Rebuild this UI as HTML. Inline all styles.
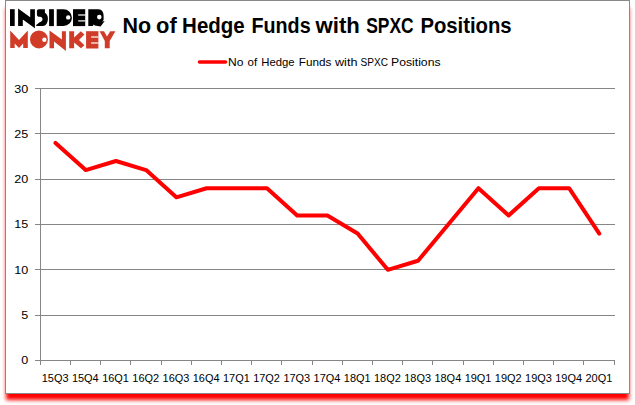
<!DOCTYPE html>
<html><head><meta charset="utf-8">
<style>
html,body{margin:0;padding:0;background:#fff;}
body{width:635px;height:405px;position:relative;overflow:hidden;font-family:"Liberation Sans",sans-serif;}
.box{position:absolute;left:5px;top:0;width:623px;height:392px;border:1px solid #898989;background:#fff;box-shadow:0 7px 4px -1px #ff0000;}
svg{position:absolute;left:0;top:0;}
</style></head><body>
<div class="box"></div>
<svg width="635" height="405" viewBox="0 0 635 405" font-family="Liberation Sans, sans-serif">
<g fill="#000">
<rect x="10" y="9.2" width="4.7" height="16.8"/>
<polygon points="18.1,8.4 30.2,17.2 30.2,9.3 34.9,9.3 34.9,28.3 22.8,19.6 22.8,25.9 18.1,25.9"/>
<path d="M38.8,9.3 H44.9 V12.7 C46.9,14 47.9,16 47.9,18.5 C47.9,23 45.8,25.9 43,25.9 H36.6 L35.9,25.2 L39.6,22.3 C41.6,21.8 42.5,20.6 42.5,19.3 C42.5,17.6 41.5,16.7 40,16.7 H38.8 C37.6,16.7 36.9,15.8 36.9,14.6 V11.3 C36.9,10.2 37.7,9.3 38.8,9.3 Z"/>
<rect x="49.1" y="9.2" width="4.8" height="16.9"/>
<path d="M56.7,9.2 H63.5 A8.45,8.45 0 0 1 63.5,26.1 H56.7 Z"/>
<rect x="73" y="9.2" width="12.2" height="16.9"/>
<path d="M88.3,9.2 H98.5 C102,9.4 103.6,12 103.6,16 V20 L102.2,21.4 L104.7,21.1 L100.6,26.4 L94.8,25.6 L93.6,24.6 L92.8,26 H88.3 Z"/>
</g>
<g fill="#fff">
<circle cx="68.2" cy="17.4" r="2.2"/>
<circle cx="99.3" cy="17.1" r="2.3"/>
<rect x="78.2" y="14.4" width="7.2" height="1.2"/>
<rect x="78.2" y="20.3" width="7.2" height="1.2"/>
</g>
<g fill="#d03c28">
<polygon points="10.2,30.4 19,40.1 27.8,30.4 27.8,48.1 23.2,48.1 23.2,43.6 19,48.1 14.7,43.6 14.7,48.1 10.2,48.1"/>
<circle cx="38.95" cy="39.45" r="8.95"/>
<polygon points="49.5,30.6 61.9,39.6 61.9,31.3 65.9,31.3 65.9,51 54,41.5 54,48.3 49.5,48.3"/>
<polygon points="69.2,31.2 74.1,31.2 74.1,37.6 80.9,31.2 84.4,34.6 79,40.1 84.4,45.3 80.9,48.3 74.1,42.5 74.1,48.3 69.2,48.3"/>
<rect x="86.1" y="31.2" width="12.3" height="17.3"/>
<polygon points="99.6,31.2 104,31.2 107,36.6 110.2,31.2 115.4,31.2 109.7,41 109.7,48.3 104.8,48.3 104.8,41"/>
</g>
<g fill="#fff">
<circle cx="44.4" cy="39.8" r="2.2"/>
<rect x="91.1" y="36.4" width="7.4" height="1.2"/>
<rect x="91.1" y="42.4" width="7.4" height="1.2"/>
</g>
<g font-weight="bold" font-size="22" fill="#000">
<text x="122.43" y="33" textLength="28.68" lengthAdjust="spacingAndGlyphs">No</text>
<text x="156.10" y="33" textLength="20.66" lengthAdjust="spacingAndGlyphs">of</text>
<text x="182.10" y="33" textLength="62.59" lengthAdjust="spacingAndGlyphs">Hedge</text>
<text x="251.44" y="33" textLength="59.17" lengthAdjust="spacingAndGlyphs">Funds</text>
<text x="315.60" y="33" textLength="44.30" lengthAdjust="spacingAndGlyphs">with</text>
<text x="366.22" y="33" textLength="47.46" lengthAdjust="spacingAndGlyphs">SPXC</text>
<text x="420.41" y="33" textLength="91.24" lengthAdjust="spacingAndGlyphs">Positions</text>
</g>
<line x1="199.5" y1="62" x2="225.5" y2="62" stroke="#ff0000" stroke-width="3.6" stroke-linecap="round"/>
<g font-size="11" fill="#000">
<text x="228.11" y="65.6" textLength="15.39" lengthAdjust="spacingAndGlyphs">No</text>
<text x="247.58" y="65.6" textLength="9.59" lengthAdjust="spacingAndGlyphs">of</text>
<text x="261.27" y="65.6" textLength="33.35" lengthAdjust="spacingAndGlyphs">Hedge</text>
<text x="298.84" y="65.6" textLength="32.55" lengthAdjust="spacingAndGlyphs">Funds</text>
<text x="335.01" y="65.6" textLength="22.44" lengthAdjust="spacingAndGlyphs">with</text>
<text x="360.54" y="65.6" textLength="27.49" lengthAdjust="spacingAndGlyphs">SPXC</text>
<text x="391.00" y="65.6" textLength="49.57" lengthAdjust="spacingAndGlyphs">Positions</text>
</g>
<g stroke="#868686" stroke-width="1" shape-rendering="crispEdges">
<line x1="40" y1="360.5" x2="614.5" y2="360.5" />
<line x1="35" y1="360.5" x2="40" y2="360.5" />
<line x1="40" y1="315.5" x2="614.5" y2="315.5" />
<line x1="35" y1="315.5" x2="40" y2="315.5" />
<line x1="40" y1="269.5" x2="614.5" y2="269.5" />
<line x1="35" y1="269.5" x2="40" y2="269.5" />
<line x1="40" y1="224.5" x2="614.5" y2="224.5" />
<line x1="35" y1="224.5" x2="40" y2="224.5" />
<line x1="40" y1="179.5" x2="614.5" y2="179.5" />
<line x1="35" y1="179.5" x2="40" y2="179.5" />
<line x1="40" y1="133.5" x2="614.5" y2="133.5" />
<line x1="35" y1="133.5" x2="40" y2="133.5" />
<line x1="40" y1="88.5" x2="614.5" y2="88.5" />
<line x1="35" y1="88.5" x2="40" y2="88.5" />
<line x1="40.5" y1="88" x2="40.5" y2="365" />
<line x1="70.5" y1="360" x2="70.5" y2="365" />
<line x1="100.5" y1="360" x2="100.5" y2="365" />
<line x1="130.5" y1="360" x2="130.5" y2="365" />
<line x1="161.5" y1="360" x2="161.5" y2="365" />
<line x1="191.5" y1="360" x2="191.5" y2="365" />
<line x1="221.5" y1="360" x2="221.5" y2="365" />
<line x1="251.5" y1="360" x2="251.5" y2="365" />
<line x1="281.5" y1="360" x2="281.5" y2="365" />
<line x1="312.5" y1="360" x2="312.5" y2="365" />
<line x1="342.5" y1="360" x2="342.5" y2="365" />
<line x1="372.5" y1="360" x2="372.5" y2="365" />
<line x1="402.5" y1="360" x2="402.5" y2="365" />
<line x1="432.5" y1="360" x2="432.5" y2="365" />
<line x1="463.5" y1="360" x2="463.5" y2="365" />
<line x1="493.5" y1="360" x2="493.5" y2="365" />
<line x1="523.5" y1="360" x2="523.5" y2="365" />
<line x1="553.5" y1="360" x2="553.5" y2="365" />
<line x1="583.5" y1="360" x2="583.5" y2="365" />
<line x1="614.5" y1="360" x2="614.5" y2="365" />
</g>
<g font-size="11.5" fill="#000">
<text x="21.30" y="363.78" font-size="11" textLength="7.00" lengthAdjust="spacingAndGlyphs">0</text>
<text x="21.30" y="318.65" font-size="11" textLength="7.00" lengthAdjust="spacingAndGlyphs">5</text>
<text x="14.30" y="273.52" font-size="11" textLength="14.00" lengthAdjust="spacingAndGlyphs">10</text>
<text x="14.30" y="228.39" font-size="11" textLength="14.00" lengthAdjust="spacingAndGlyphs">15</text>
<text x="14.30" y="183.26" font-size="11" textLength="14.00" lengthAdjust="spacingAndGlyphs">20</text>
<text x="14.30" y="138.13" font-size="11" textLength="14.00" lengthAdjust="spacingAndGlyphs">25</text>
<text x="14.30" y="93.00" font-size="11" textLength="14.00" lengthAdjust="spacingAndGlyphs">30</text>
<text x="41.71" y="381.6" font-size="11" textLength="26.8" lengthAdjust="spacingAndGlyphs">15Q3</text>
<text x="71.92" y="381.6" font-size="11" textLength="26.8" lengthAdjust="spacingAndGlyphs">15Q4</text>
<text x="102.13" y="381.6" font-size="11" textLength="26.8" lengthAdjust="spacingAndGlyphs">16Q1</text>
<text x="132.34" y="381.6" font-size="11" textLength="26.8" lengthAdjust="spacingAndGlyphs">16Q2</text>
<text x="162.55" y="381.6" font-size="11" textLength="26.8" lengthAdjust="spacingAndGlyphs">16Q3</text>
<text x="192.76" y="381.6" font-size="11" textLength="26.8" lengthAdjust="spacingAndGlyphs">16Q4</text>
<text x="222.97" y="381.6" font-size="11" textLength="26.8" lengthAdjust="spacingAndGlyphs">17Q1</text>
<text x="253.18" y="381.6" font-size="11" textLength="26.8" lengthAdjust="spacingAndGlyphs">17Q2</text>
<text x="283.39" y="381.6" font-size="11" textLength="26.8" lengthAdjust="spacingAndGlyphs">17Q3</text>
<text x="313.60" y="381.6" font-size="11" textLength="26.8" lengthAdjust="spacingAndGlyphs">17Q4</text>
<text x="343.81" y="381.6" font-size="11" textLength="26.8" lengthAdjust="spacingAndGlyphs">18Q1</text>
<text x="374.02" y="381.6" font-size="11" textLength="26.8" lengthAdjust="spacingAndGlyphs">18Q2</text>
<text x="404.23" y="381.6" font-size="11" textLength="26.8" lengthAdjust="spacingAndGlyphs">18Q3</text>
<text x="434.44" y="381.6" font-size="11" textLength="26.8" lengthAdjust="spacingAndGlyphs">18Q4</text>
<text x="464.65" y="381.6" font-size="11" textLength="26.8" lengthAdjust="spacingAndGlyphs">19Q1</text>
<text x="494.86" y="381.6" font-size="11" textLength="26.8" lengthAdjust="spacingAndGlyphs">19Q2</text>
<text x="525.07" y="381.6" font-size="11" textLength="26.8" lengthAdjust="spacingAndGlyphs">19Q3</text>
<text x="555.28" y="381.6" font-size="11" textLength="26.8" lengthAdjust="spacingAndGlyphs">19Q4</text>
<text x="585.49" y="381.6" font-size="11" textLength="26.8" lengthAdjust="spacingAndGlyphs">20Q1</text>
</g>
<polyline transform="translate(0.4,0.5)" points="55.11,142.40 85.32,169.60 115.53,160.53 145.74,169.60 175.95,196.80 206.16,187.73 236.37,187.73 266.58,187.73 296.79,214.93 327.00,214.93 357.21,233.07 387.42,269.33 417.63,260.27 447.84,224.00 478.05,187.73 508.26,214.93 538.47,187.73 568.68,187.73 598.89,233.07" fill="none" stroke="#ff0000" stroke-width="4" stroke-linejoin="round" stroke-linecap="round"/>
</svg>
</body></html>
